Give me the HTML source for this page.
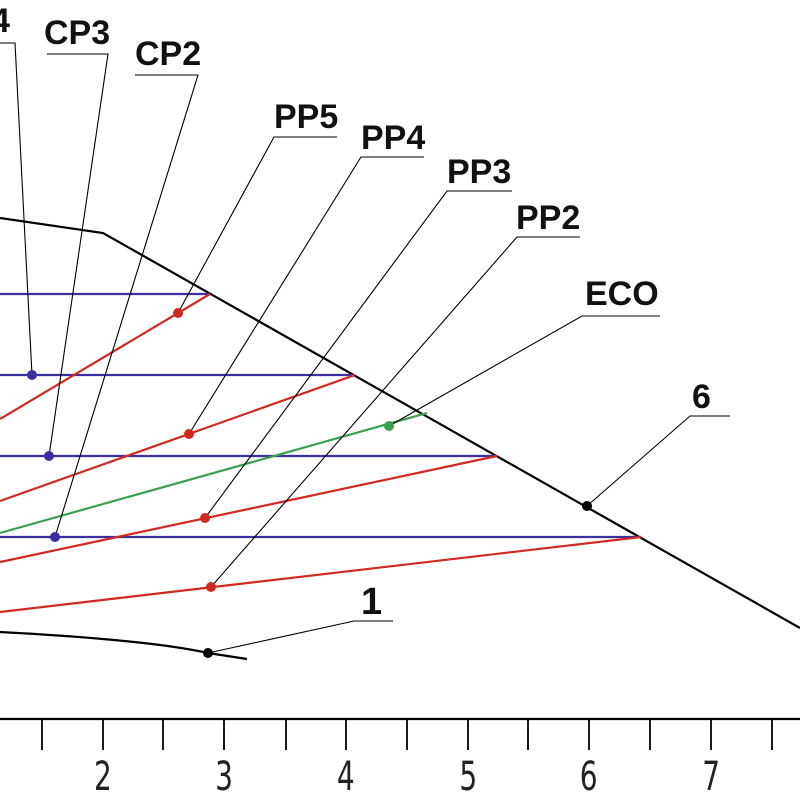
<!DOCTYPE html>
<html><head><style>body{margin:0;background:#fff}svg{display:block}</style></head>
<body>
<svg width="800" height="800" viewBox="0 0 800 800" xmlns="http://www.w3.org/2000/svg">
<g stroke="#000" stroke-width="2.2" fill="none">
<line x1="0" y1="719" x2="800" y2="719"/>
<g stroke-width="1.8">
<line x1="42" y1="719" x2="42" y2="750"/><line x1="103" y1="719" x2="103" y2="750"/>
<line x1="163" y1="719" x2="163" y2="750"/><line x1="224" y1="719" x2="224" y2="750"/>
<line x1="286" y1="719" x2="286" y2="750"/><line x1="346" y1="719" x2="346" y2="750"/>
<line x1="407" y1="719" x2="407" y2="750"/><line x1="468" y1="719" x2="468" y2="750"/>
<line x1="528" y1="719" x2="528" y2="750"/><line x1="589" y1="719" x2="589" y2="750"/>
<line x1="650" y1="719" x2="650" y2="750"/><line x1="711" y1="719" x2="711" y2="750"/>
<line x1="772" y1="719" x2="772" y2="750"/>
</g>
<polyline points="0,218 103,233 800,628"/>
<path d="M0,632 Q150,640 208,653 L247,659"/>
</g>
<g stroke="#3a30a0" stroke-width="2.2">
<line x1="0" y1="294" x2="210" y2="294"/><line x1="0" y1="375" x2="355" y2="375"/>
<line x1="0" y1="456" x2="497" y2="456"/><line x1="0" y1="537" x2="641" y2="537"/>
</g>
<g stroke="#d02a20" stroke-width="2.2">
<line x1="0" y1="419" x2="210" y2="294"/><line x1="0" y1="501" x2="355" y2="375"/>
<line x1="0" y1="562" x2="497" y2="456"/><line x1="0" y1="612" x2="641" y2="537"/>
</g>
<line x1="0" y1="533" x2="427" y2="413" stroke="#3aa050" stroke-width="2.2"/>
<g stroke="#000" stroke-width="1.1" fill="none">
<polyline points="0,43 15,43 32,375"/>
<polyline points="47,54 108,54 49,456"/>
<polyline points="135,75 198,75 55,537"/>
<polyline points="337,137 274,137 178,313"/>
<polyline points="424,157 361,157 189,434"/>
<polyline points="512,191 447,191 205,518"/>
<polyline points="580,237 517,237 211,587"/>
<polyline points="660,316 582,316 389,426"/>
<polyline points="730,416 690,416 587,506"/>
<polyline points="393,621 354,621 208,653"/>
</g>
<g fill="#3a30a0"><circle cx="32" cy="375" r="5"/><circle cx="49" cy="456" r="5"/><circle cx="55" cy="537" r="5"/></g>
<g fill="#d02a20"><circle cx="178" cy="313" r="5"/><circle cx="189" cy="434" r="5"/><circle cx="205" cy="518" r="5"/><circle cx="211" cy="587" r="5"/></g>
<circle cx="389" cy="426" r="5" fill="#3aa050"/>
<g fill="#000"><circle cx="587" cy="506" r="5"/><circle cx="208" cy="653" r="5"/></g>
<g font-family="Liberation Sans, sans-serif" font-weight="bold" font-size="34" fill="#111">
<text x="-9" y="32">4</text>
<text x="44" y="44">CP3</text>
<text x="135" y="65">CP2</text>
<text x="274" y="128">PP5</text>
<text x="361" y="149">PP4</text>
<text x="447" y="183">PP3</text>
<text x="516" y="229">PP2</text>
<text x="585" y="305">ECO</text>
<text x="692" y="408">6</text>
<text x="361" y="614" font-size="38">1</text>
</g>
<g font-family="DejaVu Sans, sans-serif" font-size="40" fill="#222" text-anchor="middle" transform="scale(0.7,1)">
<text x="147" y="790">2</text><text x="320" y="790">3</text><text x="494" y="790">4</text>
<text x="669" y="790">5</text><text x="841" y="790">6</text><text x="1016" y="790">7</text>
</g>
</svg>
</body></html>
